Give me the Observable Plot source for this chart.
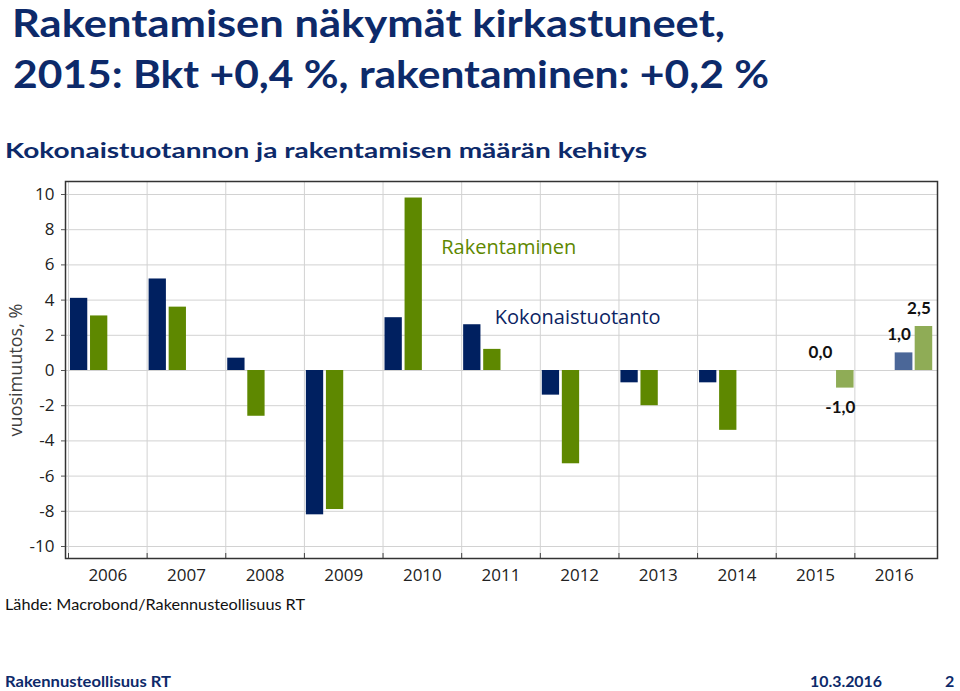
<!DOCTYPE html>
<html><head><meta charset="utf-8">
<script src="https://cdn.jsdelivr.net/npm/d3@7"></script>
<script src="https://cdn.jsdelivr.net/npm/@observablehq/plot@0.6"></script>
<style>
body{margin:0;background:#fff;width:960px;height:691px;position:relative;overflow:hidden;font-family:Lato,sans-serif}
.t{position:absolute;white-space:nowrap;transform-origin:0 0;line-height:1}
#chart{position:absolute;left:0;top:170px}
#ylab{position:absolute;left:15px;top:370px;transform:translate(-50%,-50%) rotate(-90deg);font-family:"Open Sans";font-size:18px;color:#404040;white-space:nowrap}
</style></head><body>
<div class="t fit" data-w="713" style="left:12px;top:3px;font-size:38px;font-weight:bold;color:#0d2a6a">Rakentamisen näkymät kirkastuneet,</div>
<div class="t fit" data-w="756" style="left:13px;top:54px;font-size:38px;font-weight:bold;color:#0d2a6a">2015: Bkt +0,4 %, rakentaminen: +0,2 %</div>
<div class="t fit" data-w="642" style="left:5px;top:139px;font-size:21px;font-weight:bold;color:#0d2a6a">Kokonaistuotannon ja rakentamisen määrän kehitys</div>
<div id="chart"></div>
<div id="ylab">vuosimuutos, %</div>
<div class="t fit" data-w="300" style="left:5px;top:597px;font-size:15px;color:#111">Lähde: Macrobond/Rakennusteollisuus RT</div>
<div class="t fit" data-w="166" style="left:5px;top:673px;font-size:16px;font-weight:bold;color:#0d2a6a">Rakennusteollisuus RT</div>
<div class="t fit" data-w="72" style="left:810px;top:673px;font-size:16px;font-weight:bold;color:#0d2a6a">10.3.2016</div>
<div class="t" style="left:945px;top:673px;font-size:16px;font-weight:bold;color:#0d2a6a">2</div>
<script>
// ---- data ----
const years = [2006, 2007, 2008, 2009, 2010, 2011, 2012, 2013, 2014, 2015, 2016];
const kokonaistuotanto = [4.1, 5.2, 0.7, -8.2, 3.0, 2.6, -1.4, -0.7, -0.7, 0.0, 1.0];
const rakentaminen = [3.1, 3.6, -2.6, -7.9, 9.8, 1.2, -5.3, -2.0, -3.4, -1.0, 2.5];
const forecastYears = [2015, 2016];
const seriesNames = ["Kokonaistuotanto", "Rakentaminen"];
const yTicks = [-10, -8, -6, -4, -2, 0, 2, 4, 6, 8, 10];
const yTickLabels = ["-10", "-8", "-6", "-4", "-2", "0", "2", "4", "6", "8", "10"];

// ---- styling ----
const colors = {
  Kokonaistuotanto: {actual: "#002060", forecast: "#4b6798"},
  Rakentaminen: {actual: "#5e8800", forecast: "#8fac56"}
};
// bar placement within each year (fraction of year band)
const slots = {
  actual: {Kokonaistuotanto: [0.025, 0.245], Rakentaminen: [0.28, 0.5]},
  forecast: {Kokonaistuotanto: [0.513, 0.738], Rakentaminen: [0.767, 0.99]}
};

const rows = [];
years.forEach((yr, i) => {
  const kind = forecastYears.includes(yr) ? "forecast" : "actual";
  rows.push({year: yr, series: seriesNames[0], value: kokonaistuotanto[i], kind});
  rows.push({year: yr, series: seriesNames[1], value: rakentaminen[i], kind});
});
const x1 = d => d.year + slots[d.kind][d.series][0];
const x2 = d => d.year + slots[d.kind][d.series][1];
const fmt = v => v.toFixed(1).replace(".", ",");
const labelRows = rows.filter(d => d.kind === "forecast");
const labelOpts = {x: d => (x1(d) + x2(d)) / 2, y: "value", text: d => fmt(d.value),
  dx: -5, lineAnchor: "middle", fontFamily: "Lato", fontWeight: "bold", fontSize: 17, fill: "#111"};

const chart = Plot.plot({
  width: 960, height: 420,
  marginLeft: 65, marginRight: 23, marginTop: 11, marginBottom: 32,
  x: {domain: [2006, 2017], insetLeft: 3, insetRight: 4, axis: null},
  y: {domain: [-10, 10], insetTop: 13, insetBottom: 12, axis: null},
  style: {fontFamily: "Open Sans", background: "white", overflow: "visible"},
  marks: [
    Plot.gridY(yTicks, {stroke: "#d2d2d2", strokeOpacity: 1}),
    Plot.gridX(years, {stroke: "#d2d2d2", strokeOpacity: 1}),
    Plot.rect(rows, {x1, x2, y1: 0, y2: "value", fill: d => colors[d.series][d.kind]}),
    Plot.frame({stroke: "#333", strokeWidth: 1.5}),
    Plot.axisY(yTicks, {label: null, tickSize: 4, tickPadding: 7, fontSize: 17, fill: "#222", stroke: "#555",
      tickFormat: d => yTickLabels[yTicks.indexOf(d)]}),
    Plot.axisX(years, {label: null, tickSize: 5, dy: -5, stroke: "#444", tickFormat: () => ""}),
    Plot.text(years, {x: d => d + 0.5, text: d => String(d), frameAnchor: "bottom", dy: 17,
      lineAnchor: "middle", fontSize: 17, fill: "#222"}),
    Plot.text(labelRows.filter(d => d.value >= 0), {...labelOpts, dy: -18}),
    Plot.text(labelRows.filter(d => d.value < 0), {...labelOpts, dy: 19}),
    Plot.text(["Rakentaminen"], {x: 2010.74, y: 7, text: d => d, textAnchor: "start",
      lineAnchor: "middle", fontSize: 20, fill: "#5e8800"}),
    Plot.text(["Kokonaistuotanto"], {x: 2011.42, y: 3, text: d => d, textAnchor: "start",
      lineAnchor: "middle", fontSize: 20, fill: "#0b2463"})
  ]
});
document.getElementById("chart").append(chart);

document.querySelectorAll(".fit").forEach(el => {
  const w = el.getBoundingClientRect().width;
  const target = +el.dataset.w;
  if (w > 0) el.style.transform = `scaleX(${target / w})`;
});
</script>
</body></html>
